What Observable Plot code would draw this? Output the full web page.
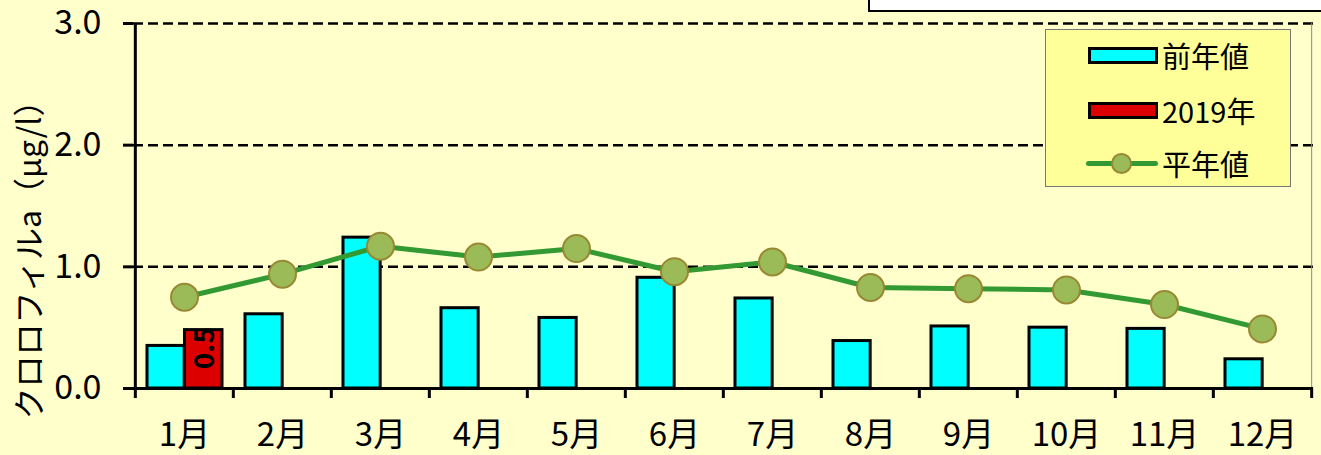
<!DOCTYPE html>
<html><head><meta charset="utf-8">
<script src="https://cdn.jsdelivr.net/npm/d3@7"></script>
<script src="https://cdn.jsdelivr.net/npm/@observablehq/plot@0.6"></script>
<style>
html,body{margin:0;padding:0;background:#FFFFCC;overflow:hidden}
#wrap{position:relative;width:1321px;height:455px;background:#FFFFCC}
#topbox{position:absolute;left:868px;top:-3px;width:470px;height:11px;background:#fff;border:2px solid #000}
#legend{position:absolute;left:1045px;top:29px;width:246px;height:158px;background:#FFFF99;border:1px solid #777;box-sizing:border-box;font-family:"Noto Sans CJK JP",sans-serif;font-size:29px;color:#000}
.it{position:absolute;left:0;width:100%;height:17px}
.sw{position:absolute;left:42px;top:0;width:70px;height:17px;border:3px solid #000;box-sizing:border-box}
.lab{position:absolute;left:116px;top:-10px;line-height:37px;white-space:nowrap}
.ln{position:absolute;left:40px;top:6px;width:72px;height:5px;background:#339933;border-radius:3px}
.dt{position:absolute;left:65px;top:-2px;width:21px;height:21px;border-radius:50%;background:#9BBB59;border:2px solid #998833;box-sizing:border-box}
svg text{font-family:"Liberation Sans Narrow","Noto Sans CJK JP",sans-serif}
</style></head>
<body><div id="wrap"></div>
<script>
const months = ["1月","2月","3月","4月","5月","6月","7月","8月","9月","10月","11月","12月"];
const prevYear = [0.35,0.61,1.24,0.66,0.58,0.91,0.74,0.39,0.51,0.50,0.49,0.24];
const year2019 = [0.48];
const year2019Labels = ["0.5"];
const normal = [0.75,0.94,1.17,1.08,1.15,0.96,1.04,0.83,0.82,0.81,0.69,0.49];
const yTicks = [0,1,2,3];
const gridLines = [1,2,3];
const yLabel = "クロロフィルa（μg/l）";
const legendNames = ["前年値","2019年","平年値"];

const W = 1321, H = 455, mL = 133, mR = 8, mT = 23, mB = 67;
const bw = (W - mL - mR) / months.length;

const prevData = months.map((m,i)=>({m, v: prevYear[i]}));
const curData = year2019.map((v,i)=>({m: months[i], v, label: year2019Labels[i]}));
const normData = months.map((m,i)=>({m, v: normal[i]}));

const chart = Plot.plot({
  width: W, height: H,
  marginLeft: mL, marginRight: mR, marginTop: mT, marginBottom: mB,
  style: {background: "transparent", overflow: "visible"},
  x: {type: "band", domain: months, padding: 0, axis: null},
  y: {domain: [0, 3], axis: null, label: null},
  marks: [
    Plot.ruleY(gridLines, {stroke: "#000", strokeWidth: 2.5, strokeDasharray: "10,5"}),
    Plot.ruleX([months[months.length-1]], {dx: bw/2, stroke: "#8a8a8a", strokeWidth: 1}),
    Plot.barY(prevData, {x: "m", y: "v", fill: "#00FFFF", stroke: "#000", strokeWidth: 3, insetLeft: 12, insetRight: bw - 49.5}),
    Plot.barY(curData, {x: "m", y: "v", fill: "#DD0000", stroke: "#000", strokeWidth: 3, insetLeft: 49.5, insetRight: 11}),
    Plot.text(curData, {x: "m", y: "v", text: "label", rotate: -90, textAnchor: "end", dx: 21, dy: -3, fontSize: 28, fontWeight: "bold", fill: "#000"}),
    Plot.line(normData, {x: "m", y: "v", stroke: "#339933", strokeWidth: 5}),
    Plot.dot(normData, {x: "m", y: "v", r: 13.5, fill: "#9BBB59", stroke: "#998833", strokeWidth: 2}),
    Plot.ruleY([0], {stroke: "#000", strokeWidth: 3}),
    Plot.ruleX([months[0]], {dx: -bw/2, stroke: "#000", strokeWidth: 3}),
    Plot.ruleX(months, {x: d=>d, dx: -bw/2, y1: 0, y2: 0, insetBottom: -10, stroke: "#000", strokeWidth: 3}),
    Plot.ruleX([months[months.length-1]], {dx: bw/2, y1: 0, y2: 0, insetBottom: -10, stroke: "#000", strokeWidth: 3}),
    Plot.axisY({ticks: yTicks, tickFormat: d3.format(".1f"), tickSize: 10, tickPadding: 22, fontSize: 34, anchor: "left", label: null}),
    Plot.text(months, {x: d=>d, y: 0, dy: 47, text: d=>d, fontSize: 33, fill: "#000"}),
    Plot.text([yLabel], {frameAnchor: "left", textAnchor: "middle", dx: -103, dy: 46, rotate: -90, text: d=>d, fontSize: 32, fill: "#000", fontFamily: "Noto Sans CJK JP"})
  ]
});
chart.querySelectorAll('[aria-label="y-axis tick"] path, [aria-label="y-axis tick"]').forEach(e=>e.setAttribute("stroke-width","3"));
chart.querySelectorAll('[aria-label="y-axis tick"]').forEach(e=>e.setAttribute("stroke","#000"));
chart.querySelectorAll('[aria-label="y-axis tick label"]').forEach(e=>e.setAttribute("fill","#000"));

const wrap = document.getElementById("wrap");
wrap.appendChild(chart);
const tb = document.createElement("div"); tb.id = "topbox"; wrap.appendChild(tb);
const lg = document.createElement("div"); lg.id = "legend";
lg.innerHTML =
  `<div class="it" style="top:17px"><div class="sw" style="background:#00FFFF"></div><div class="lab">${legendNames[0]}</div></div>` +
  `<div class="it" style="top:72px"><div class="sw" style="background:#DD0000"></div><div class="lab">${legendNames[1]}</div></div>` +
  `<div class="it" style="top:125px"><div class="ln"></div><div class="dt"></div><div class="lab">${legendNames[2]}</div></div>`;
wrap.appendChild(lg);
</script></body></html>
